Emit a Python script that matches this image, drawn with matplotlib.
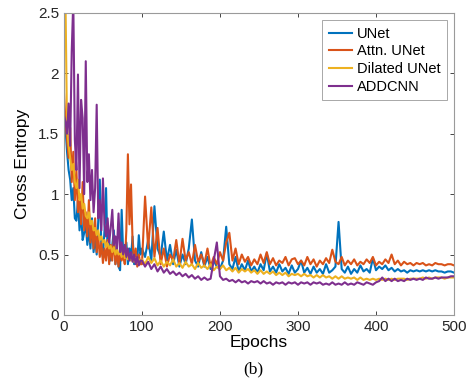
import matplotlib
matplotlib.use("Agg")
import matplotlib.pyplot as plt

# values: every 2 epochs up to 98, then every 4 epochs
epochs = list(range(0, 100, 2)) + list(range(100, 501, 4))

unet = [
    # 0..98
    1.68, 1.55, 1.35, 1.20, 1.12, 0.95, 1.05, 0.80, 0.78, 0.95,
    0.70, 0.85, 0.62, 0.68, 0.75, 0.58, 0.72, 0.55, 0.80, 0.52,
    0.65, 0.50, 0.78, 1.12, 0.55, 0.48, 0.70, 1.05, 0.50, 0.62,
    0.45, 0.58, 0.70, 0.42, 0.55, 0.40, 0.37, 0.87, 0.50, 0.45,
    0.60, 0.42, 0.55, 0.48, 0.65, 0.42, 0.52, 0.45, 0.66, 0.50,
    # 100..500
    0.55, 0.48, 0.62, 0.45, 0.90, 0.55, 0.48, 0.69, 0.45, 0.58,
    0.42, 0.54, 0.40, 0.50, 0.42, 0.55, 0.79, 0.45, 0.40, 0.52,
    0.40, 0.48, 0.38, 0.45, 0.40, 0.38, 0.45, 0.73, 0.42, 0.38,
    0.48, 0.36, 0.42, 0.37, 0.45, 0.36, 0.40, 0.35, 0.42, 0.37,
    0.51, 0.36, 0.40, 0.35, 0.42, 0.36, 0.39, 0.34, 0.41, 0.35,
    0.38, 0.45, 0.35, 0.39, 0.34, 0.40, 0.35, 0.38, 0.34, 0.42,
    0.35, 0.37, 0.40, 0.77, 0.38, 0.35, 0.40, 0.34, 0.38, 0.35,
    0.41, 0.36, 0.38, 0.35, 0.47, 0.37, 0.40, 0.38, 0.41, 0.37,
    0.39, 0.36, 0.38, 0.36, 0.37, 0.35, 0.37, 0.36, 0.37, 0.36,
    0.37, 0.36, 0.37, 0.36, 0.37, 0.36, 0.36, 0.35, 0.36, 0.36,
    0.35]

attn_unet = [
    1.85, 1.60, 1.45, 1.30, 1.55, 1.10, 1.35, 0.95, 1.20, 0.85,
    1.00, 0.75, 1.10, 0.70, 0.85, 0.65, 0.95, 0.60, 0.75, 0.55,
    0.80, 0.52, 0.65, 0.48, 0.60, 0.43, 0.55, 0.45, 0.62, 0.42,
    0.58, 0.45, 0.65, 0.42, 0.52, 0.40, 0.55, 0.45, 0.50, 0.42,
    0.70, 1.33, 0.75, 1.08, 0.60, 0.45, 0.55, 0.40, 0.50, 0.42,
    0.42, 0.98, 0.55, 0.89, 0.48, 0.72, 0.42, 0.55, 0.40, 0.50,
    0.45, 0.62, 0.42, 0.63, 0.45, 0.52, 0.42, 0.58, 0.44, 0.50,
    0.42, 0.55, 0.40, 0.48, 0.42, 0.52, 0.45, 0.60, 0.68, 0.45,
    0.55, 0.42, 0.50, 0.44, 0.48, 0.41, 0.46, 0.42, 0.50, 0.43,
    0.52, 0.42, 0.47, 0.41, 0.45, 0.43, 0.48, 0.41, 0.46, 0.47,
    0.42, 0.45, 0.41, 0.48, 0.42, 0.46, 0.40, 0.45, 0.42, 0.47,
    0.43, 0.54, 0.44, 0.42, 0.48, 0.41, 0.45, 0.42, 0.46, 0.41,
    0.44, 0.42, 0.46, 0.43, 0.48, 0.41, 0.44, 0.42, 0.46, 0.43,
    0.50, 0.42, 0.45, 0.41, 0.44, 0.42, 0.43, 0.41, 0.43, 0.42,
    0.43, 0.41, 0.42, 0.41, 0.43, 0.42, 0.42, 0.41, 0.42, 0.42,
    0.41]

dilated_unet = [
    3.00, 2.60, 1.55, 1.40, 1.30, 1.20, 1.25, 1.10, 1.05, 1.12,
    0.95, 1.00, 0.88, 0.92, 0.82, 0.80, 0.85, 0.75, 0.78, 0.70,
    0.72, 0.66, 0.70, 0.62, 0.65, 0.60, 0.62, 0.56, 0.60, 0.55,
    0.57, 0.52, 0.56, 0.50, 0.54, 0.50, 0.52, 0.48, 0.53, 0.47,
    0.50, 0.46, 0.50, 0.45, 0.48, 0.44, 0.47, 0.43, 0.46, 0.44,
    0.46, 0.42, 0.48, 0.43, 0.47, 0.41, 0.45, 0.40, 0.44, 0.41,
    0.46, 0.40, 0.43, 0.39, 0.44, 0.40, 0.42, 0.38, 0.43, 0.39,
    0.41, 0.38, 0.42, 0.37, 0.40, 0.38, 0.41, 0.37, 0.39, 0.36,
    0.39, 0.35, 0.38, 0.36, 0.38, 0.35, 0.37, 0.34, 0.37, 0.34,
    0.36, 0.34, 0.36, 0.33, 0.35, 0.33, 0.35, 0.32, 0.34, 0.33,
    0.34, 0.32, 0.34, 0.32, 0.33, 0.31, 0.33, 0.31, 0.33, 0.31,
    0.32, 0.30, 0.32, 0.30, 0.32, 0.30, 0.31, 0.30, 0.31, 0.29,
    0.31, 0.29, 0.30, 0.29, 0.30, 0.29, 0.30, 0.29, 0.30, 0.29,
    0.30, 0.29, 0.30, 0.30, 0.30, 0.29, 0.30, 0.30, 0.30, 0.30,
    0.31, 0.30, 0.31, 0.30, 0.31, 0.31, 0.31, 0.30, 0.31, 0.31,
    0.31]

addcnn = [
    1.65, 1.60, 1.50, 1.75, 1.40, 2.18, 2.60, 1.45, 1.20, 1.99,
    1.05, 1.78, 1.63, 1.00, 2.10, 1.10, 1.33, 0.95, 1.20, 0.85,
    1.05, 1.74, 0.80, 0.95, 0.70, 1.13, 0.75, 0.65, 0.80, 0.60,
    0.72, 0.87, 0.58, 0.65, 0.55, 0.84, 0.52, 0.60, 0.50, 0.58,
    0.48, 0.55, 0.45, 0.52, 0.44, 0.50, 0.42, 0.48, 0.41, 0.45,
    0.45, 0.40, 0.44, 0.38, 0.42, 0.36, 0.40, 0.35, 0.38, 0.34,
    0.36, 0.33, 0.35, 0.32, 0.34, 0.31, 0.33, 0.30, 0.32, 0.29,
    0.31, 0.29, 0.30, 0.45, 0.60, 0.32, 0.29, 0.30, 0.28, 0.29,
    0.27, 0.29, 0.27, 0.28, 0.26, 0.28, 0.27, 0.28, 0.26, 0.28,
    0.26, 0.27, 0.25, 0.27, 0.26, 0.27, 0.25, 0.27, 0.26, 0.27,
    0.25, 0.27, 0.26, 0.27, 0.25, 0.27, 0.26, 0.27, 0.25, 0.26,
    0.25, 0.27, 0.25, 0.26, 0.25, 0.27, 0.25, 0.26, 0.25, 0.27,
    0.26, 0.25, 0.27, 0.26, 0.25, 0.27, 0.28, 0.31, 0.28, 0.30,
    0.28, 0.30, 0.28, 0.29, 0.28, 0.30, 0.29, 0.30, 0.29, 0.30,
    0.29, 0.31, 0.30, 0.30, 0.31, 0.30, 0.31, 0.31, 0.31, 0.32,
    0.32]

labels = ["UNet", "Attn. UNet", "Dilated UNet", "ADDCNN"]
colors = ["#0072BD", "#D95319", "#EDB120", "#7E2F8E"]

plt.rcParams["font.family"] = ["Liberation Sans", "DejaVu Sans"]

fig = plt.figure(figsize=(4.70, 3.79), dpi=100)
ax = fig.add_axes([0.136, 0.169, 0.830, 0.797])

for series, lab, col in zip([unet, attn_unet, dilated_unet, addcnn], labels, colors):
    ax.plot(epochs, series, color=col, linewidth=1.5, label=lab)

ax.set_xlim(0, 500)
ax.set_ylim(0, 2.5)
ax.set_xticks([0, 100, 200, 300, 400, 500])
ax.set_yticks([0, 0.5, 1, 1.5, 2, 2.5])
ax.set_yticklabels(["0", "0.5", "1", "1.5", "2", "2.5"])
ax.tick_params(direction="in", top=True, right=True, labelsize=11,
               colors="#262626", length=3, width=0.6)
for sp in ax.spines.values():
    sp.set_color("#9a9a9a")
    sp.set_linewidth(0.8)

ax.set_xlabel("Epochs", fontsize=12.5, labelpad=1)
ax.set_ylabel("Cross Entropy", fontsize=12.5, labelpad=6)

leg = ax.legend(loc="upper right", fontsize=10.5, handlelength=1.6,
                handletextpad=0.3, borderpad=0.45, labelspacing=0.25,
                fancybox=False, framealpha=1, borderaxespad=0.5)
leg.get_frame().set_edgecolor("#9a9a9a")
leg.get_frame().set_linewidth(0.6)

fig.text(0.54, 0.015, "(b)", family="Liberation Serif", fontsize=12.5, ha="center")

fig.savefig("out.png", dpi=100)
